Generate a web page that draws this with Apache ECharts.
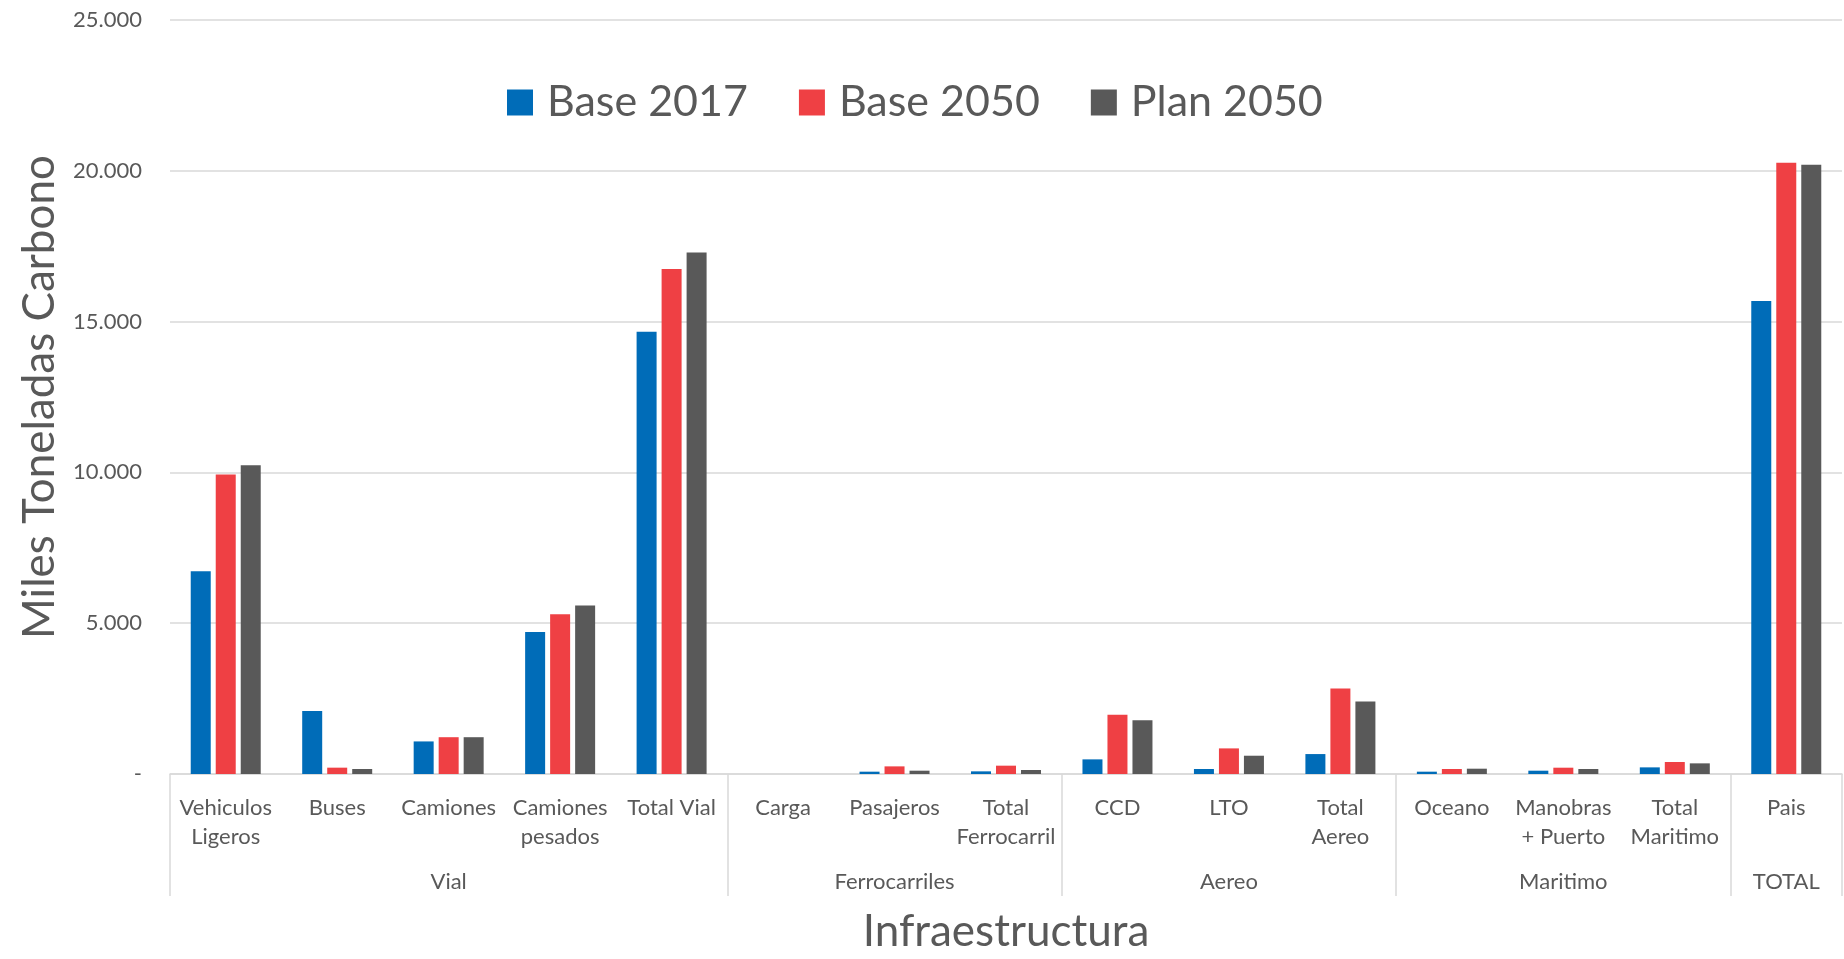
<!DOCTYPE html>
<html>
<head>
<meta charset="utf-8">
<title>Miles Toneladas Carbono</title>
<script src="https://cdn.jsdelivr.net/npm/echarts@6/dist/echarts.min.js"></script>
<style>
  html, body { margin: 0; padding: 0; background: #fff; }
  #chart { width: 1844px; height: 959px; }
</style>
</head>
<body>
<div id="chart"></div>
<script>
// datos
var categories = ['Vehiculos\nLigeros', 'Buses', 'Camiones', 'Camiones\npesados', 'Total Vial',
  'Carga', 'Pasajeros', 'Total\nFerrocarril',
  'CCD', 'LTO', 'Total\nAereo',
  'Oceano', 'Manobras\n+ Puerto', 'Total\nMaritimo',
  'Pais'];
var groupNames = ['Vial', 'Ferrocarriles', 'Aereo', 'Maritimo', 'TOTAL'];
var groupSizes = [5, 3, 3, 3, 1];
var base2017 = [6720, 2090, 1080, 4710, 14660, 0, 77, 88, 485, 165, 661, 77, 110, 220, 15680];
var base2050 = [9930, 210, 1220, 5300, 16740, 0, 253, 276, 1962, 849, 2832, 165, 209, 397, 20270];
var plan2050 = [10240, 165, 1220, 5590, 17290, 0, 110, 132, 1785, 606, 2402, 176, 165, 353, 20200];

var textColor = '#595959';
var lineColor = '#d9d9d9';
var font = 'Lato';

// segundo nivel del eje: nombre del grupo en la categoria central, separadores al inicio de cada grupo
var groupLabels = [];
var groupStarts = {};
var start = 0;
groupSizes.forEach(function (n, i) {
  groupStarts[start] = true;
  for (var k = 0; k < n; k++) {
    groupLabels.push(k === Math.floor(n / 2) ? groupNames[i] : '');
  }
  start += n;
});

function fmt(v) {
  if (v === 0) return '-';
  return String(v).replace(/\B(?=(\d{3})+(?!\d))/g, '.');
}

var option = {
  color: ['#006cb8', '#ef4044', '#595959'],
  textStyle: { fontFamily: font },
  legend: {
    left: 502,
    top: 76,
    itemWidth: 26,
    itemHeight: 26,
    itemGap: 51,
    icon: 'rect',
    textStyle: { fontSize: 43, color: textColor, fontFamily: font, padding: [0, 0, 0, 9] },
    data: ['Base 2017', 'Base 2050', 'Plan 2050']
  },
  grid: {
    left: 170,
    right: 2,
    top: 20,
    bottom: 184,
    containLabel: false
  },
  xAxis: [{
    type: 'category',
    data: categories,
    axisLine: { lineStyle: { color: lineColor, width: 1.5 } },
    axisTick: { show: false },
    axisLabel: {
      interval: 0,
      margin: 19,
      fontSize: 22,
      lineHeight: 29,
      color: textColor,
      fontFamily: font
    }
  }, {
    type: 'category',
    data: groupLabels,
    position: 'bottom',
    axisLine: { show: false },
    axisTick: {
      show: true,
      length: 122,
      interval: function (index) { return !!groupStarts[index]; },
      lineStyle: { color: lineColor, width: 1.5 }
    },
    axisLabel: {
      interval: 0,
      margin: 93,
      fontSize: 22,
      lineHeight: 29,
      color: textColor,
      fontFamily: font
    },
    name: 'Infraestructura',
    nameLocation: 'middle',
    nameGap: 136,
    nameTextStyle: { fontSize: 44, color: textColor, fontFamily: font }
  }],
  yAxis: {
    type: 'value',
    min: 0,
    max: 25000,
    interval: 5000,
    axisLine: { show: false },
    axisTick: { show: false },
    splitLine: { lineStyle: { color: lineColor, width: 1.5 } },
    axisLabel: {
      margin: 28,
      fontSize: 22,
      color: textColor,
      fontFamily: font,
      formatter: fmt
    },
    name: 'Miles Toneladas Carbono',
    nameLocation: 'middle',
    nameGap: 102,
    nameTextStyle: { fontSize: 44, color: textColor, fontFamily: font }
  },
  series: [
    { name: 'Base 2017', type: 'bar', data: base2017, barWidth: 20, barGap: '25%' },
    { name: 'Base 2050', type: 'bar', data: base2050, barWidth: 20, barGap: '25%' },
    { name: 'Plan 2050', type: 'bar', data: plan2050, barWidth: 20, barGap: '25%' }
  ]
};

var myChart = echarts.init(document.getElementById('chart'));
myChart.setOption(option);
</script>
</body>
</html>
